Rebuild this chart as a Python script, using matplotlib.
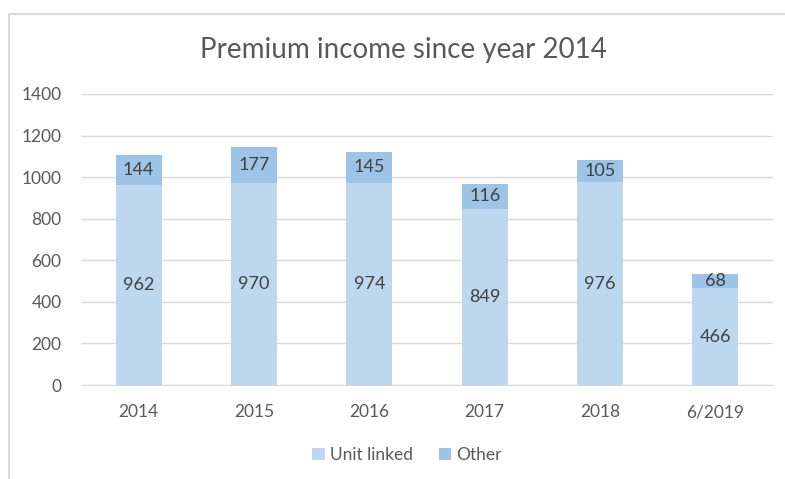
import matplotlib
matplotlib.use("Agg")
import matplotlib.pyplot as plt
from matplotlib.lines import Line2D
import numpy as np

categories = ["2014", "2015", "2016", "2017", "2018", "6/2019"]
unit_linked = [962, 970, 974, 849, 976, 466]
other = [144, 177, 145, 116, 105, 68]

plt.rcParams['font.family'] = ['Lato', 'DejaVu Sans']

fig = plt.figure(figsize=(7.85, 4.79), dpi=100)
ax = fig.add_axes([81/785, 1-385/479, (773-81)/785, (385-94)/479])

x = np.arange(len(categories))
c1 = "#BDD7EE"
c2 = "#9DC3E6"
w = 0.4
ax.bar(x, unit_linked, width=w, color=c1, label="Unit linked", zorder=2)
ax.bar(x, other, width=w, bottom=unit_linked, color=c2, label="Other", zorder=2)

for xi, u, o in zip(x, unit_linked, other):
    ax.text(xi, u/2, str(u), ha='center', va='center', fontsize=13, color='#404040', zorder=3)
    ax.text(xi, u + o/2, str(o), ha='center', va='center', fontsize=13, color='#404040', zorder=3)

ax.set_xlim(-0.5, len(categories)-0.5)
ax.set_ylim(0, 1400)
ax.set_yticks(range(0, 1401, 200))
ax.set_xticks(x)
ax.set_xticklabels(categories)
ax.yaxis.grid(True, color='#D9D9D9', linewidth=1, zorder=0)
ax.set_axisbelow(True)
for s in ['top', 'right', 'left']:
    ax.spines[s].set_visible(False)
ax.spines['bottom'].set_color('#D9D9D9')
ax.tick_params(axis='both', length=0, labelsize=12.5, labelcolor='#595959')
ax.tick_params(axis='x', pad=14)
ax.tick_params(axis='y', pad=14)

fig.text(403/785, 1-50/479, "Premium income since year 2014", ha='center', va='center',
         fontsize=20, color='#595959')

leg = fig.legend(loc='center', bbox_to_anchor=(407/785, 1-455/479), ncol=2, frameon=False,
                 fontsize=12.5, handlelength=0.7, handleheight=0.7, handletextpad=0.3,
                 columnspacing=1.5, labelcolor='#595959')

fig.add_artist(Line2D([9/785, 9/785], [0, 1-13.5/479], transform=fig.transFigure, color='#D9D9D9', linewidth=1.5))
fig.add_artist(Line2D([9/785, 1], [1-13.5/479, 1-13.5/479], transform=fig.transFigure, color='#D9D9D9', linewidth=1.5))

fig.savefig("out.png", dpi=100)
